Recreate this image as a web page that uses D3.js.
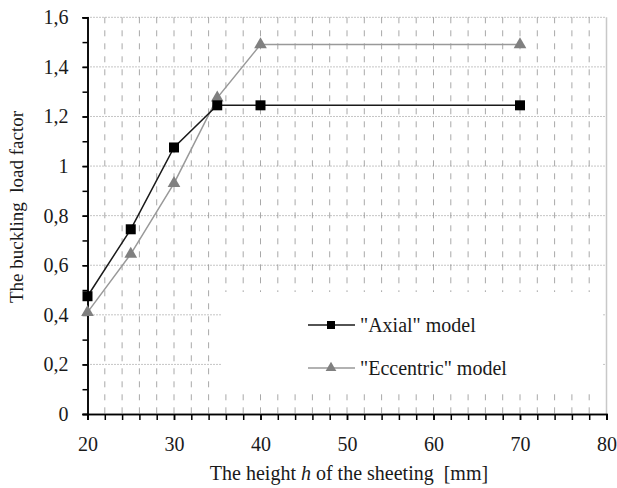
<!DOCTYPE html>
<html>
<head>
<meta charset="utf-8">
<script src="https://cdn.jsdelivr.net/npm/d3@7"></script>
<style>
  body { margin: 0; background: #fff; }
  svg, svg text, svg tspan { font-family: "Liberation Serif", "Times New Roman", Times !important; }
</style>
</head>
<body>
<script>
// heights of the sheeting [mm]
let heights = [20, 25, 30, 35, 40, 70];
let axialValues = [0.475, 0.745, 1.075, 1.245, 1.245, 1.245];
let eccentricValues = [0.41, 0.645, 0.93, 1.275, 1.49, 1.49];

let seriesNames = ['"Axial" model', '"Eccentric" model'];

let xTicks = [20, 30, 40, 50, 60, 70, 80];
let xMinorTicks = d3.range(20, 81, 2);
let yTicks = [0, 0.2, 0.4, 0.6, 0.8, 1, 1.2, 1.4, 1.6];
let yTickLabels = ["0", "0,2", "0,4", "0,6", "0,8", "1", "1,2", "1,4", "1,6"];
let yMinorTicks = d3.range(0, 16.1, 1).map(v => v / 10);

let serif = "Liberation Serif";

let margin = {top: 17.3, right: 10.5, bottom: 74, left: 87.5},
    width  = 617 - margin.left - margin.right,
    height = 488 - margin.top  - margin.bottom;

let svgRoot = d3.select("body").append("svg")
    .attr("width",  617)
    .attr("height", 488)
    .attr("font-family", serif);

let svg = svgRoot.append("g")
    .attr("transform", `translate(${margin.left}, ${margin.top})`);

let xScale = d3.scaleLinear()
    .domain([20, 80])
    .range([0, width]);
let yScale = d3.scaleLinear()
    .domain([0, 1.6])
    .range([height, 0]);

function drawGrid() {
  svg.append("g")
      .selectAll("line")
      .data(xMinorTicks.filter(v => v > 20 && v < 80))
      .enter()
        .append("line")
        .attr("x1", d => xScale(d))
        .attr("x2", d => xScale(d))
        .attr("y1", 0)
        .attr("y2", height)
        .attr("stroke", "#a8a8a8")
        .attr("stroke-dasharray", "6,7");

  svg.append("g")
      .selectAll("line")
      .data(yTicks.filter(v => v > 0))
      .enter()
        .append("line")
        .attr("x1", 0)
        .attr("x2", width)
        .attr("y1", d => yScale(d))
        .attr("y2", d => yScale(d))
        .attr("stroke", "#8a8a8a")
        .attr("stroke-dasharray", "1,2");

  // right edge of the plot area
  svg.append("line")
      .attr("x1", width).attr("x2", width)
      .attr("y1", 0).attr("y2", height)
      .attr("stroke", "#c8c8c8")
      .attr("stroke-width", 1.5);
}

function styleAxis(g) {
  g.attr("font-family", serif);
  g.selectAll("path, line").attr("stroke", "#000").attr("stroke-width", 1.5);
  g.selectAll("text")
      .attr("font-size", 20)
      .attr("fill", "#1a1a1a")
      .attr("font-family", serif);
}

function drawAxes() {
  let xMinor = d3.axisBottom(xScale).tickValues(xMinorTicks).tickSize(6).tickFormat("");
  let xMajor = d3.axisBottom(xScale).tickValues(xTicks).tickSize(6).tickPadding(17)
      .tickFormat(d => d);
  let yMinor = d3.axisLeft(yScale).tickValues(yMinorTicks).tickSize(5).tickFormat("");
  let yMajor = d3.axisLeft(yScale).tickValues(yTicks).tickSize(5).tickPadding(14)
      .tickFormat((d, i) => yTickLabels[i]);

  svg.append("g")
      .attr("transform", `translate(0, ${height})`)
      .call(xMinor).call(styleAxis);
  svg.append("g")
      .attr("transform", `translate(0, ${height})`)
      .call(xMajor).call(styleAxis);
  svg.append("g").call(yMinor).call(styleAxis);
  svg.append("g").call(yMajor).call(styleAxis);
}

function drawLegendBox() {
  svgRoot.append("rect")
      .attr("x", 222)
      .attr("y", 292)
      .attr("width", 380)
      .attr("height", 97)
      .attr("fill", "#fff");
}

function drawSeries(values, color, symbolType, symbolSize, fill) {
  let line = d3.line()
      .x((v, i) => xScale(heights[i]))
      .y(v => yScale(v));
  svg.append("path")
      .datum(values)
      .attr("fill", "none")
      .attr("stroke", color)
      .attr("stroke-width", 1.5)
      .attr("d", line);
  svg.selectAll(null)
      .data(values)
      .enter()
        .append("path")
        .attr("d", d3.symbol().type(symbolType).size(symbolSize))
        .attr("transform", (v, i) => `translate(${xScale(heights[i])}, ${yScale(v)})`)
        .attr("fill", fill);
}

function drawLegend() {
  let items = [
    {name: seriesNames[0], color: "#1a1a1a", fill: "#000", type: d3.symbolSquare, size: 64, y: 325},
    {name: seriesNames[1], color: "#999", fill: "#808080", type: d3.symbolTriangle, size: 50, y: 368}
  ];
  let g = svgRoot.append("g");
  items.forEach(it => {
    g.append("line")
        .attr("x1", 308).attr("x2", 355)
        .attr("y1", it.y).attr("y2", it.y)
        .attr("stroke", it.color)
        .attr("stroke-width", 1.5);
    g.append("path")
        .attr("d", d3.symbol().type(it.type).size(it.size))
        .attr("transform", `translate(331, ${it.y})`)
        .attr("fill", it.fill);
    g.append("text")
        .attr("x", 360)
        .attr("y", it.y + 7)
        .attr("font-size", 20)
        .attr("fill", "#1a1a1a")
        .attr("font-family", serif)
        .text(it.name);
  });
}

function drawTitles() {
  let xt = svgRoot.append("text")
      .attr("x", 349)
      .attr("y", 480)
      .attr("text-anchor", "middle")
      .attr("font-size", 20)
      .attr("fill", "#1a1a1a")
      .attr("font-family", serif)
      .style("white-space", "pre");
  xt.append("tspan").text("The height ");
  xt.append("tspan").attr("font-style", "italic").text("h");
  xt.append("tspan").text(" of the sheeting  [mm]");

  svgRoot.append("text")
      .attr("transform", "translate(23, 207) rotate(-90)")
      .attr("text-anchor", "middle")
      .attr("font-size", 19)
      .attr("fill", "#1a1a1a")
      .attr("font-family", serif)
      .style("white-space", "pre")
      .text("The buckling  load factor");
}

drawGrid();
drawLegendBox();
drawAxes();
drawSeries(eccentricValues, "#999", d3.symbolTriangle, 70, "#808080");
drawSeries(axialValues, "#1a1a1a", d3.symbolSquare, 100, "#000");
drawLegend();
drawTitles();
</script>
</body>
</html>
